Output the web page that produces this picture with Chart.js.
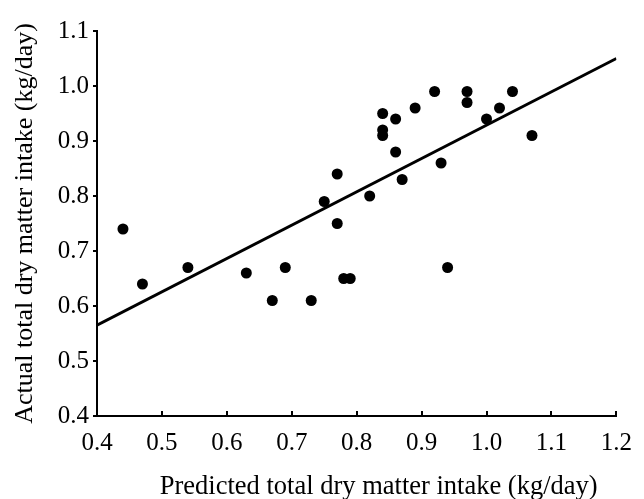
<!DOCTYPE html>
<html>
<head>
<meta charset="utf-8">
<script src="https://cdn.jsdelivr.net/npm/chart.js@4"></script>
<style>
  body { margin: 0; background: #fff; }
  canvas { display: block; }
</style>
</head>
<body>
<canvas id="chart" width="644" height="499"></canvas>
<script>
// --- datos ---
const predicted = [0.44, 0.47, 0.54, 0.63, 0.67, 0.69, 0.73, 0.75, 0.77, 0.77, 0.78, 0.79, 0.82, 0.84, 0.84, 0.84, 0.86, 0.86, 0.87, 0.89, 0.92, 0.93, 0.94, 0.97, 0.97, 1.00, 1.02, 1.04, 1.07];
const actual    = [0.74, 0.64, 0.67, 0.66, 0.61, 0.67, 0.61, 0.79, 0.84, 0.75, 0.65, 0.65, 0.80, 0.95, 0.92, 0.91, 0.94, 0.88, 0.83, 0.96, 0.99, 0.86, 0.67, 0.99, 0.97, 0.94, 0.96, 0.99, 0.91];

// recta de regresion (extremos)
const fitX = [0.4, 1.2];
const fitY = [0.565, 1.05];

const xTicks = [0.4, 0.5, 0.6, 0.7, 0.8, 0.9, 1.0, 1.1, 1.2];
const yTicks = [0.4, 0.5, 0.6, 0.7, 0.8, 0.9, 1.0, 1.1];

const xTitle = 'Predicted total dry matter intake (kg/day)';
const yTitle = 'Actual total dry matter intake (kg/day)';

const FONT = 'Liberation Serif';

// ticks del eje x hacia dentro (arriba)
const innerTicks = {
  id: 'innerTicks',
  afterDatasetsDraw(chart) {
    const { ctx, scales: { x } } = chart;
    const yb = chart.chartArea.bottom;
    ctx.save();
    ctx.strokeStyle = '#000';
    ctx.lineWidth = 2;
    xTicks.slice(1).forEach(v => {
      const px = Math.round(x.getPixelForValue(v));
      ctx.beginPath();
      ctx.moveTo(px, yb);
      ctx.lineTo(px, yb - 5);
      ctx.stroke();
    });
    ctx.restore();
  }
};

// titulo del eje x un poco desplazado a la derecha
const xTitlePlugin = {
  id: 'xTitlePlugin',
  afterDraw(chart) {
    const { ctx, chartArea } = chart;
    ctx.save();
    ctx.fillStyle = '#000';
    ctx.font = `26.5px "${FONT}"`;
    ctx.textAlign = 'center';
    ctx.textBaseline = 'alphabetic';
    ctx.fillText(xTitle, (chartArea.left + chartArea.right) / 2 + 22, 494);
    ctx.restore();
  }
};

const pts = predicted.map((v, i) => ({ x: v, y: actual[i] }));
const fit = fitX.map((v, i) => ({ x: v, y: fitY[i] }));

new Chart(document.getElementById('chart'), {
  type: 'scatter',
  data: {
    datasets: [
      {
        data: pts,
        backgroundColor: '#000',
        borderColor: '#000',
        pointRadius: 5.5,
        pointHoverRadius: 5.5,
        borderWidth: 0
      },
      {
        data: fit,
        showLine: true,
        borderColor: '#000',
        borderWidth: 3,
        pointRadius: 0,
        fill: false
      }
    ]
  },
  options: {
    responsive: false,
    animation: false,
    layout: { padding: { top: 31, right: 17, left: 0, bottom: 0 } },
    plugins: { legend: { display: false }, tooltip: { enabled: false } },
    scales: {
      x: {
        type: 'linear',
        min: 0.4, max: 1.2,
        afterBuildTicks: s => { s.ticks = xTicks.map(v => ({ value: v })); },
        afterFit: s => { s.height = 83; },
        border: { color: '#000', width: 2 },
        grid: { display: true, drawOnChartArea: false, drawTicks: false },
        ticks: {
          color: '#000',
          padding: 12,
          maxRotation: 0,
          font: { family: FONT, size: 25 },
          callback: v => Number(v).toFixed(1)
        },
        title: { display: false }
      },
      y: {
        type: 'linear',
        min: 0.4, max: 1.1,
        afterBuildTicks: s => { s.ticks = yTicks.map(v => ({ value: v })); },
        afterFit: s => { s.width = 97; },
        border: { color: '#000', width: 2 },
        grid: { display: true, drawOnChartArea: false, drawTicks: true, tickLength: 4, color: '#000', lineWidth: 2 },
        ticks: {
          color: '#000',
          padding: 4,
          font: { family: FONT, size: 25 },
          callback: v => Number(v).toFixed(1)
        },
        title: {
          display: true,
          text: yTitle,
          color: '#000',
          padding: { top: 12, bottom: 0 },
          font: { family: FONT, size: 26, lineHeight: 1 }
        }
      }
    }
  },
  plugins: [innerTicks, xTitlePlugin]
});
</script>
</body>
</html>
